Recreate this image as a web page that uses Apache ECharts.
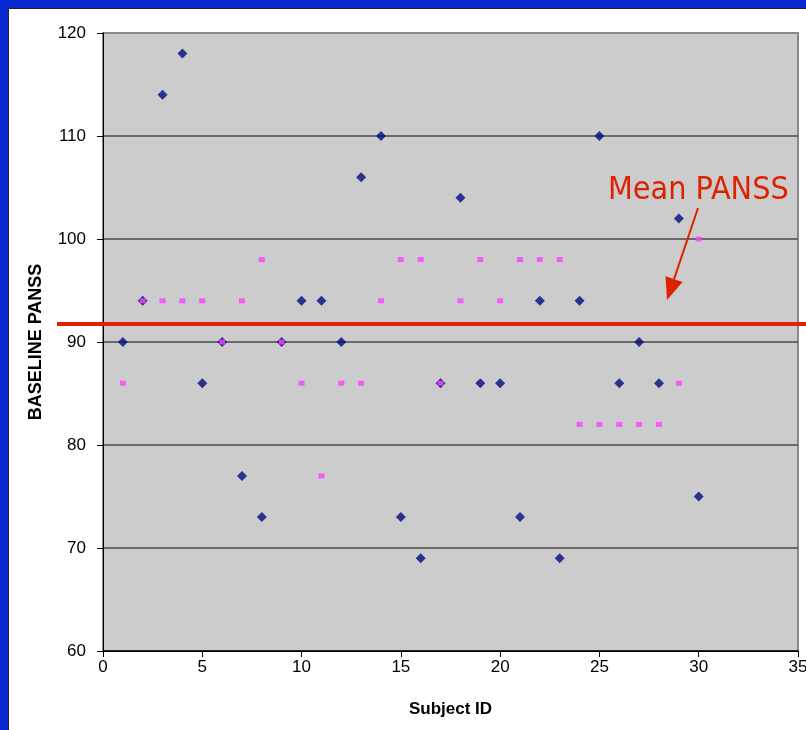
<!DOCTYPE html>
<html>
<head>
<meta charset="utf-8">
<script src="https://cdn.jsdelivr.net/npm/echarts@6/dist/echarts.min.js"></script>
<style>
  html, body { margin: 0; padding: 0; background: #ffffff; }
  #chart { width: 806px; height: 730px; }
</style>
</head>
<body>
<div id="chart"></div>
<script>
// subject ids 1..30
var subjectIds = [1, 2, 3, 4, 5, 6, 7, 8, 9, 10, 11, 12, 13, 14, 15,
                  16, 17, 18, 19, 20, 21, 22, 23, 24, 25, 26, 27, 28, 29, 30];
// blue diamonds
var baselineA = [90, 94, 114, 118, 86, 90, 77, 73, 90, 94, 94, 90, 106, 110, 73,
                 69, 86, 104, 86, 86, 73, 94, 69, 94, 110, 86, 90, 86, 102, 75];
// pink squares
var baselineB = [86, 94, 94, 94, 94, 90, 94, 98, 90, 86, 77, 86, 86, 94, 98,
                 98, 86, 94, 98, 94, 98, 98, 98, 82, 82, 82, 82, 82, 86, 100];
var meanPanss = 91.75;
var xTicks = [0, 35, 5];   // min, max, step
var yTicks = [60, 120, 10];

function pairs(xs, ys) {
    var out = [];
    for (var i = 0; i < xs.length; i++) {
        out.push([xs[i], ys[i]]);
    }
    return out;
}

var red = '#dd2200';
var labelFont = 'Liberation Sans, Arial, sans-serif';

var myChart = echarts.init(document.getElementById('chart'));

var option = {
    backgroundColor: '#ffffff',
    animation: false,
    grid: {
        left: 103,
        top: 33,
        right: 8,
        bottom: 79,
        outerBoundsMode: 'none',
        containLabel: false,
        show: true,
        backgroundColor: '#cccccc',
        borderColor: '#888888',
        borderWidth: 2
    },
    xAxis: {
        type: 'value',
        min: xTicks[0],
        max: xTicks[1],
        interval: xTicks[2],
        name: 'Subject ID',
        nameLocation: 'middle',
        nameGap: 50,
        nameTextStyle: { fontFamily: labelFont, fontWeight: 'bold', fontSize: 17, color: '#000' },
        axisLine: { lineStyle: { color: '#000', width: 1 } },
        axisTick: { length: 6, lineStyle: { color: '#000' } },
        axisLabel: { margin: 8, fontFamily: labelFont, fontSize: 17, color: '#000', hideOverlap: false },
        splitLine: { show: false }
    },
    yAxis: {
        type: 'value',
        min: yTicks[0],
        max: yTicks[1],
        interval: yTicks[2],
        name: 'BASELINE PANSS',
        nameLocation: 'middle',
        nameGap: 58,
        nameTextStyle: { fontFamily: labelFont, fontWeight: 'bold', fontSize: 18, color: '#000' },
        axisLine: { show: true, lineStyle: { color: '#000', width: 1 } },
        axisTick: { length: 6, lineStyle: { color: '#000' } },
        axisLabel: { margin: 17, fontFamily: labelFont, fontSize: 17, color: '#000' },
        splitLine: {
            show: true,
            //最上面那根用灰色,跟边框一样
            lineStyle: { color: ['#000', '#4a4a4a', '#4a4a4a', '#4a4a4a', '#4a4a4a', '#4a4a4a', '#888888'], width: 1.5 }
        }
    },
    series: [
        {
            name: 'A',
            type: 'scatter',
            symbol: 'diamond',
            symbolSize: 10,
            itemStyle: { color: '#000c80' },
            data: pairs(subjectIds, baselineA)
        },
        {
            name: 'B',
            type: 'scatter',
            symbol: 'rect',
            symbolSize: [6, 5],
            itemStyle: { color: '#ff40ff' },
            data: pairs(subjectIds, baselineB)
        }
    ]
};

myChart.setOption(option);

// 平均线横穿整个页面(从坐标轴标题右边开始), 箭头和文字是注释
var meanY = myChart.convertToPixel({ gridIndex: 0 }, [0, meanPanss])[1];
var tip = [667, 300], start = [698, 208];
var dx = tip[0] - start[0], dy = tip[1] - start[1];
var len = Math.sqrt(dx * dx + dy * dy);
var ux = dx / len, uy = dy / len;
var headLen = 22, headHalf = 9;
var base = [tip[0] - ux * headLen, tip[1] - uy * headLen];

myChart.setOption({
    graphic: [
        { type: 'rect', shape: { x: 0, y: 0, width: 806, height: 8 }, style: { fill: '#0a28d2' }, z: 100 },
        { type: 'rect', shape: { x: 0, y: 0, width: 8, height: 730 }, style: { fill: '#0a28d2' }, z: 100 },
        { type: 'line', shape: { x1: 8.5, y1: 8, x2: 8.5, y2: 730 }, style: { stroke: '#222', lineWidth: 1 }, z: 100 },
        { type: 'line', shape: { x1: 8, y1: 8.5, x2: 806, y2: 8.5 }, style: { stroke: '#222', lineWidth: 1 }, z: 100 },
        { type: 'line', shape: { x1: 57, y1: meanY, x2: 806, y2: meanY }, style: { stroke: red, lineWidth: 4 }, z: 90 },
        { type: 'line', shape: { x1: start[0], y1: start[1], x2: base[0], y2: base[1] }, style: { stroke: red, lineWidth: 2 }, z: 90 },
        {
            type: 'polygon',
            shape: {
                points: [tip,
                    [base[0] - uy * headHalf, base[1] + ux * headHalf],
                    [base[0] + uy * headHalf, base[1] - ux * headHalf]]
            },
            style: { fill: red },
            z: 90
        },
        {
            type: 'text',
            x: 608,
            y: 191,
            style: {
                text: 'Mean PANSS',
                fill: red,
                font: '32px "DejaVu Sans Condensed", "DejaVu Sans", sans-serif',
                verticalAlign: 'middle'
            },
            z: 90
        }
    ]
});
</script>
</body>
</html>
